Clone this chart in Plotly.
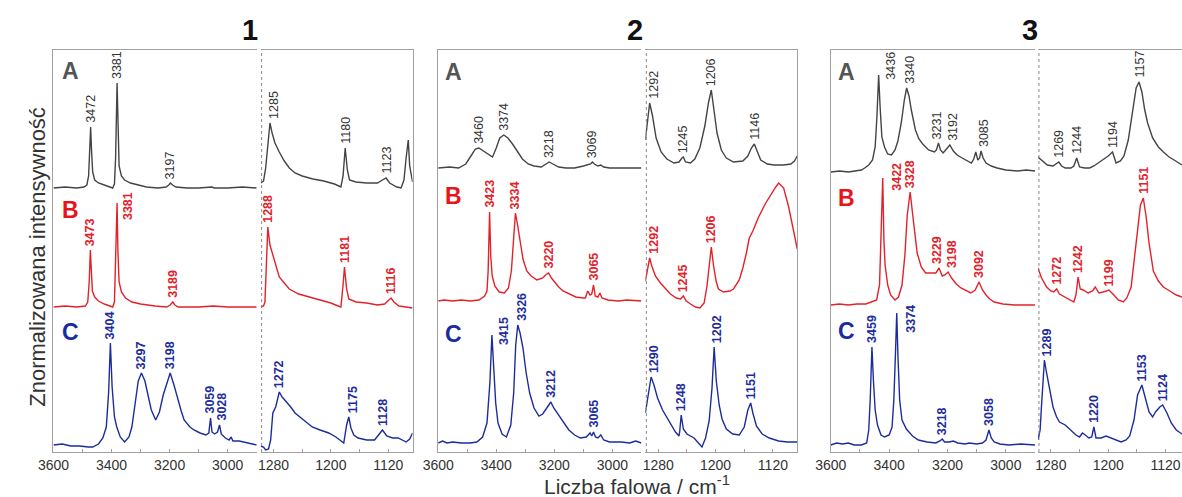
import numpy as np
import plotly.graph_objects as go

# ---------------------------------------------------------------------------
# Spectra: (wavenumber / cm-1, normalised intensity above the trace baseline)
# "HI" = 3600-2900 cm-1 region, "LO" = 1300-1090 cm-1 region
# ---------------------------------------------------------------------------
G1_HI_A = [(3600,0.00),(3560,0.01),(3520,0.00),(3495,0.01),(3485,0.03),(3479,0.12),(3475,0.40),(3472,0.61),(3469,0.38),(3465,0.16),(3458,0.08),(3445,0.05),(3425,0.03),(3405,0.01),(3396,0.00),(3390,0.04),(3386,0.30),(3381,1.05),(3378,0.55),(3374,0.22),(3366,0.12),(3355,0.08),(3335,0.05),(3310,0.03),(3280,0.01),(3240,0.00),(3212,0.01),(3203,0.03),(3197,0.05),(3190,0.03),(3178,0.01),(3140,0.00),(3100,0.00),(3055,0.01),(3045,0.00),(3000,0.00),(2950,0.01),(2900,0.00)]
G1_LO_A = [(1298,0.05),(1294,0.07),(1291,0.20),(1288,0.45),(1285,0.65),(1282,0.55),(1278,0.45),(1272,0.36),(1265,0.27),(1258,0.20),(1250,0.15),(1240,0.12),(1225,0.09),(1210,0.07),(1195,0.04),(1186,0.01),(1183,0.12),(1180,0.40),(1177,0.18),(1174,0.08),(1165,0.06),(1150,0.05),(1135,0.05),(1128,0.08),(1123,0.10),(1118,0.05),(1108,0.01),(1102,0.00),(1098,0.08),(1095,0.30),(1092,0.48),(1090,0.22),(1086,0.06)]
G1_HI_B = [(3600,0.00),(3560,0.01),(3520,0.00),(3490,0.01),(3482,0.05),(3477,0.25),(3473,0.57),(3470,0.35),(3466,0.16),(3458,0.10),(3445,0.06),(3425,0.03),(3405,0.01),(3396,0.00),(3390,0.05),(3386,0.40),(3381,1.04),(3378,0.55),(3374,0.25),(3366,0.15),(3352,0.09),(3330,0.05),(3300,0.03),(3250,0.01),(3210,0.00),(3198,0.02),(3189,0.05),(3182,0.02),(3170,0.00),(3100,0.00),(3050,0.01),(3000,0.00),(2950,0.00),(2900,0.00)]
G1_LO_B = [(1298,0.00),(1294,0.01),(1292,0.05),(1290,0.35),(1288,0.80),(1285,0.62),(1281,0.52),(1276,0.38),(1272,0.30),(1265,0.24),(1258,0.18),(1245,0.13),(1230,0.10),(1215,0.07),(1200,0.04),(1190,0.01),(1186,0.00),(1183,0.22),(1181,0.40),(1178,0.18),(1175,0.08),(1165,0.05),(1150,0.04),(1135,0.02),(1125,0.03),(1119,0.07),(1116,0.09),(1112,0.05),(1105,0.01),(1095,0.00),(1086,-0.01)]
G1_HI_C = [(3600,0.02),(3570,0.03),(3540,0.01),(3510,0.01),(3480,0.00),(3465,0.00),(3445,0.03),(3430,0.09),(3418,0.20),(3410,0.55),(3404,1.04),(3398,0.60),(3390,0.30),(3382,0.20),(3370,0.10),(3355,0.05),(3340,0.10),(3330,0.20),(3318,0.45),(3308,0.66),(3297,0.74),(3285,0.66),(3273,0.50),(3263,0.37),(3248,0.27),(3235,0.35),(3222,0.52),(3215,0.58),(3198,0.74),(3185,0.62),(3174,0.50),(3160,0.36),(3150,0.27),(3130,0.20),(3116,0.17),(3095,0.14),(3075,0.12),(3065,0.14),(3059,0.29),(3054,0.15),(3045,0.13),(3035,0.15),(3028,0.22),(3022,0.13),(3008,0.09),(2995,0.07),(2988,0.10),(2982,0.06),(2960,0.06),(2935,0.04),(2915,0.03),(2900,0.02)]
G1_LO_C = [(1298,0.01),(1294,0.00),(1291,-0.03),(1287,-0.02),(1284,0.07),(1281,0.34),(1277,0.40),(1272,0.55),(1268,0.50),(1263,0.46),(1256,0.40),(1250,0.34),(1238,0.27),(1226,0.20),(1215,0.17),(1203,0.14),(1193,0.10),(1185,0.05),(1182,0.04),(1178,0.22),(1175,0.30),(1172,0.19),(1168,0.12),(1162,0.09),(1150,0.07),(1139,0.07),(1133,0.13),(1128,0.17),(1122,0.11),(1114,0.09),(1106,0.09),(1100,0.07),(1095,0.05),(1090,0.08),(1086,0.14)]

G2_HI_A = [(3600,0.00),(3560,0.01),(3530,0.00),(3505,0.04),(3485,0.13),(3472,0.19),(3460,0.20),(3445,0.17),(3430,0.14),(3413,0.11),(3400,0.20),(3388,0.30),(3374,0.33),(3360,0.30),(3344,0.24),(3325,0.15),(3310,0.09),(3290,0.04),(3270,0.02),(3245,0.01),(3230,0.04),(3218,0.06),(3205,0.04),(3185,0.01),(3160,0.00),(3130,0.00),(3100,0.02),(3085,0.03),(3075,0.04),(3069,0.06),(3062,0.04),(3050,0.02),(3040,0.03),(3030,0.01),(3010,0.00),(2960,0.00),(2900,0.00)]
G2_LO_A = [(1298,0.28),(1296,0.40),(1292,0.65),(1288,0.52),(1283,0.30),(1276,0.16),(1268,0.09),(1258,0.05),(1251,0.06),(1247,0.10),(1245,0.11),(1242,0.06),(1235,0.05),(1229,0.09),(1222,0.20),(1215,0.42),(1210,0.65),(1206,0.78),(1202,0.55),(1198,0.35),(1192,0.18),(1185,0.10),(1175,0.06),(1162,0.07),(1155,0.12),(1150,0.20),(1146,0.24),(1142,0.17),(1137,0.08),(1128,0.04),(1118,0.03),(1105,0.03),(1095,0.04),(1090,0.07),(1086,0.12)]
G2_HI_B = [(3600,0.00),(3580,0.01),(3550,0.00),(3520,0.01),(3490,0.00),(3460,0.01),(3440,0.05),(3432,0.10),(3428,0.30),(3423,0.89),(3419,0.45),(3414,0.25),(3405,0.15),(3390,0.09),(3372,0.08),(3358,0.13),(3348,0.30),(3340,0.70),(3334,0.88),(3326,0.75),(3318,0.60),(3308,0.42),(3295,0.30),(3280,0.25),(3260,0.21),(3240,0.23),(3230,0.26),(3220,0.28),(3210,0.23),(3200,0.19),(3185,0.14),(3170,0.10),(3150,0.07),(3126,0.04),(3100,0.03),(3093,0.03),(3085,0.10),(3077,0.06),(3071,0.07),(3065,0.16),(3059,0.05),(3050,0.04),(3043,0.08),(3036,0.03),(3015,0.01),(2980,0.00),(2950,0.01),(2920,0.00),(2900,0.00)]
G2_LO_B = [(1298,0.20),(1295,0.30),(1292,0.43),(1289,0.35),(1284,0.25),(1277,0.18),(1270,0.12),(1263,0.07),(1255,0.03),(1249,0.02),(1245,0.05),(1241,0.00),(1235,-0.03),(1228,-0.06),(1222,-0.07),(1216,-0.02),(1212,0.15),(1209,0.35),(1206,0.54),(1203,0.36),(1199,0.19),(1196,0.12),(1189,0.09),(1180,0.10),(1175,0.12),(1167,0.21),(1162,0.33),(1157,0.48),(1153,0.63),(1148,0.70),(1140,0.84),(1130,0.98),(1122,1.08),(1116,1.14),(1112,1.18),(1105,1.13),(1098,0.94),(1091,0.68),(1086,0.52)]
G2_HI_C = [(3600,0.00),(3585,0.02),(3570,0.00),(3550,0.01),(3520,0.00),(3490,0.00),(3467,0.01),(3447,0.06),(3432,0.20),(3422,0.60),(3415,1.08),(3409,0.75),(3402,0.40),(3394,0.20),(3380,0.09),(3365,0.06),(3350,0.18),(3340,0.50),(3333,0.98),(3326,1.18),(3318,1.10),(3308,0.95),(3297,0.70),(3285,0.50),(3270,0.35),(3253,0.27),(3240,0.29),(3226,0.35),(3212,0.41),(3202,0.35),(3190,0.30),(3182,0.27),(3165,0.19),(3150,0.13),(3130,0.08),(3110,0.05),(3090,0.06),(3077,0.10),(3071,0.07),(3065,0.11),(3058,0.06),(3050,0.05),(3040,0.08),(3030,0.03),(3010,0.01),(2970,0.01),(2940,0.00),(2920,0.02),(2900,0.00)]
G2_LO_C = [(1298,0.30),(1294,0.50),(1290,0.66),(1286,0.58),(1281,0.45),(1274,0.33),(1263,0.20),(1256,0.11),(1251,0.07),(1250,0.12),(1248,0.28),(1245,0.14),(1240,0.09),(1230,0.05),(1224,0.00),(1219,-0.04),(1214,0.05),(1209,0.22),(1205,0.55),(1202,0.96),(1199,0.62),(1195,0.38),(1191,0.24),(1185,0.14),(1176,0.09),(1167,0.08),(1160,0.16),(1155,0.33),(1151,0.40),(1148,0.30),(1143,0.17),(1135,0.09),(1125,0.05),(1112,0.02),(1100,0.01),(1086,0.01)]

G3_HI_A = [(3600,0.00),(3570,0.01),(3540,0.00),(3515,0.01),(3495,0.02),(3484,0.04),(3470,0.07),(3457,0.12),(3448,0.25),(3442,0.55),(3436,0.97),(3431,0.65),(3425,0.35),(3416,0.25),(3405,0.18),(3392,0.17),(3380,0.22),(3370,0.31),(3358,0.50),(3348,0.72),(3340,0.84),(3332,0.76),(3324,0.62),(3310,0.42),(3298,0.33),(3285,0.28),(3265,0.22),(3245,0.20),(3238,0.22),(3231,0.29),(3224,0.22),(3215,0.19),(3200,0.24),(3192,0.27),(3180,0.21),(3167,0.17),(3150,0.14),(3135,0.12),(3118,0.09),(3110,0.13),(3103,0.20),(3096,0.12),(3090,0.14),(3085,0.21),(3078,0.14),(3068,0.09),(3050,0.06),(3030,0.04),(3000,0.02),(2960,0.01),(2930,0.02),(2900,0.01)]
G3_LO_A = [(1298,0.15),(1292,0.11),(1285,0.07),(1277,0.06),(1272,0.08),(1269,0.10),(1265,0.06),(1260,0.04),(1252,0.04),(1248,0.06),(1244,0.14),(1240,0.05),(1233,0.04),(1226,0.04),(1220,0.06),(1214,0.09),(1207,0.12),(1200,0.16),(1194,0.20),(1189,0.09),(1183,0.11),(1178,0.16),(1172,0.32),(1166,0.58),(1161,0.84),(1157,0.90),(1153,0.80),(1149,0.62),(1145,0.49),(1138,0.34),(1130,0.25),(1123,0.20),(1115,0.15),(1108,0.12),(1100,0.08),(1097,0.07)]
G3_HI_B = [(3600,0.00),(3570,0.01),(3540,0.00),(3510,0.01),(3480,0.01),(3460,0.03),(3443,0.05),(3433,0.20),(3428,0.60),(3422,1.27),(3418,0.65),(3414,0.40),(3405,0.20),(3395,0.10),(3380,0.05),(3368,0.08),(3356,0.20),(3346,0.50),(3338,0.90),(3328,1.13),(3320,0.92),(3312,0.70),(3304,0.52),(3290,0.38),(3275,0.32),(3255,0.32),(3240,0.32),(3229,0.37),(3218,0.29),(3209,0.30),(3198,0.33),(3186,0.27),(3170,0.21),(3154,0.17),(3135,0.14),(3120,0.12),(3105,0.15),(3092,0.23),(3080,0.15),(3068,0.10),(3055,0.06),(3040,0.03),(3010,0.01),(2970,0.00),(2930,0.00),(2900,0.00)]
G3_LO_B = [(1298,0.37),(1293,0.27),(1286,0.18),(1280,0.14),(1276,0.13),(1272,0.16),(1268,0.11),(1261,0.08),(1254,0.05),(1248,0.03),(1245,0.10),(1242,0.28),(1239,0.16),(1235,0.15),(1228,0.12),(1222,0.14),(1218,0.18),(1213,0.12),(1207,0.13),(1199,0.15),(1192,0.10),(1186,0.05),(1179,0.03),(1174,0.07),(1168,0.18),(1164,0.45),(1160,0.72),(1155,1.00),(1151,1.07),(1147,0.88),(1143,0.62),(1137,0.34),(1130,0.24),(1123,0.18),(1114,0.14),(1105,0.10),(1097,0.08)]
G3_HI_C = [(3600,0.00),(3580,0.02),(3560,0.01),(3540,0.02),(3520,0.00),(3495,0.00),(3477,0.02),(3470,0.15),(3465,0.45),(3459,0.98),(3454,0.65),(3448,0.35),(3440,0.20),(3428,0.10),(3416,0.08),(3400,0.10),(3390,0.18),(3384,0.45),(3378,0.95),(3374,1.32),(3370,0.90),(3364,0.45),(3356,0.25),(3341,0.16),(3320,0.09),(3300,0.05),(3270,0.03),(3240,0.02),(3226,0.04),(3218,0.06),(3210,0.03),(3195,0.03),(3180,0.04),(3165,0.02),(3140,0.01),(3125,0.02),(3100,0.01),(3080,0.02),(3068,0.05),(3058,0.15),(3050,0.07),(3040,0.03),(3020,0.01),(2990,0.00),(2950,0.01),(2900,0.00)]
G3_LO_C = [(1298,0.05),(1295,0.15),(1293,0.40),(1291,0.62),(1289,0.85),(1286,0.72),(1282,0.55),(1277,0.38),(1272,0.28),(1268,0.23),(1260,0.20),(1252,0.15),(1245,0.10),(1240,0.08),(1236,0.12),(1232,0.10),(1227,0.07),(1223,0.08),(1220,0.18),(1217,0.07),(1210,0.07),(1203,0.09),(1196,0.07),(1188,0.04),(1182,0.03),(1175,0.05),(1170,0.09),(1164,0.25),(1159,0.50),(1153,0.60),(1149,0.50),(1143,0.33),(1138,0.28),(1134,0.33),(1128,0.38),(1124,0.40),(1118,0.32),(1112,0.22),(1105,0.15),(1097,0.11)]

# Assigned band positions (cm-1) printed above the peaks
PEAKS_1 = {"A": [3472, 3381, 3197, 1285, 1180, 1123],
           "B": [3473, 3381, 3189, 1288, 1181, 1116],
           "C": [3404, 3297, 3198, 3059, 3028, 1272, 1175, 1128]}
PEAKS_2 = {"A": [3460, 3374, 3218, 3069, 1292, 1245, 1206, 1146],
           "B": [3423, 3334, 3220, 3065, 1292, 1245, 1206],
           "C": [3415, 3326, 3212, 3065, 1290, 1248, 1202, 1151]}
PEAKS_3 = {"A": [3436, 3340, 3231, 3192, 3085, 1269, 1244, 1194, 1157],
           "B": [3422, 3328, 3229, 3198, 3092, 1272, 1242, 1199, 1151],
           "C": [3459, 3374, 3218, 3058, 1289, 1220, 1153, 1124]}

GROUPS = ["1", "2", "3"]
SERIES = ["A", "B", "C"]
HI_TICKS = [3600, 3400, 3200, 3000]
HI_MINOR = [3500, 3300, 3100, 2900]
LO_TICKS = [1280, 1200, 1120]
LO_MINOR = [1240, 1160]

SPECTRA = {
    ("1", "hi", "A"): G1_HI_A, ("1", "lo", "A"): G1_LO_A,
    ("1", "hi", "B"): G1_HI_B, ("1", "lo", "B"): G1_LO_B,
    ("1", "hi", "C"): G1_HI_C, ("1", "lo", "C"): G1_LO_C,
    ("2", "hi", "A"): G2_HI_A, ("2", "lo", "A"): G2_LO_A,
    ("2", "hi", "B"): G2_HI_B, ("2", "lo", "B"): G2_LO_B,
    ("2", "hi", "C"): G2_HI_C, ("2", "lo", "C"): G2_LO_C,
    ("3", "hi", "A"): G3_HI_A, ("3", "lo", "A"): G3_LO_A,
    ("3", "hi", "B"): G3_HI_B, ("3", "lo", "B"): G3_LO_B,
    ("3", "hi", "C"): G3_HI_C, ("3", "lo", "C"): G3_LO_C,
}
PEAKS = {"1": PEAKS_1, "2": PEAKS_2, "3": PEAKS_3}

# ---------------------------------------------------------------------------
# Layout constants (pixels on a 1182 x 497 page)
# ---------------------------------------------------------------------------
W, H = 1182, 497
PLOT_TOP, PLOT_BOTTOM = 50, 452
Y_MAX = (PLOT_BOTTOM - PLOT_TOP) / 100.0       # 1 intensity unit = 100 px

PANEL_PX = {("1", "hi"): (38, 244), ("1", "lo"): (248, 402),
            ("2", "hi"): (428, 634), ("2", "lo"): (638, 792),
            ("3", "hi"): (826, 1033), ("3", "lo"): (1036, 1182)}
HI_RANGE = [3600, 2900]
LO_PX_PER_CM = 154 / 212.0
LO_START = 1298

# vertical stacking offset of each trace baseline
OFFSET = {"1": {"A": 2.64, "B": 1.45, "C": 0.05},
          "2": {"A": 2.84, "B": 1.51, "C": 0.09},
          "3": {"A": 2.80, "B": 1.47, "C": 0.07}}

# sideways / vertical nudges (px) of some band labels
NUDGE = {("1", "A", 1285): (4, 0), ("1", "B", 3381): (11, -21), ("1", "C", 1175): (4, 0),
         ("1", "C", 3059): (-1, 0), ("1", "C", 3028): (2, 0),
         ("2", "A", 1292): (4, 0), ("2", "B", 1292): (4, 0), ("2", "C", 3415): (12, -14),
         ("2", "C", 3326): (4, 0), ("2", "C", 1290): (3, 0), ("2", "C", 1202): (3, 0),
         ("3", "A", 3436): (12, -9), ("3", "A", 3340): (3, 0), ("3", "A", 3085): (3, 0),
         ("3", "A", 3231): (-1, 0), ("3", "A", 3192): (3, 0),
         ("3", "B", 3229): (-2, 0), ("3", "B", 3198): (4, 0),
         ("3", "B", 3422): (14, -17), ("3", "C", 3374): (14, -24), ("3", "C", 1289): (3, 0)}

LINE_COLOR = {"A": "#444444", "B": "#e3212a", "C": "#1d2c9c"}
TEXT_COLOR = {"A": "#333333", "B": "#e3212a", "C": "#1d2c9c"}
LETTER_COLOR = {"A": "#555555", "B": "#e8141c", "C": "#1a2aa0"}
LETTER_POS = {"1": (55, [71, 210, 332]), "2": (443, [72, 196, 334]), "3": (842, [72, 198, 331])}
TITLE_X = {"1": 237, "2": 627, "3": 1028}
FONT = "Liberation Sans, Arial, sans-serif"
AXIS_GRAY = "#a0a0a0"


def fx(p):
    return p / W


def fy(p):
    return 1 - p / H


fig = go.Figure()
layout = dict(width=W, height=H, margin=dict(l=0, r=0, t=0, b=0),
              paper_bgcolor="white", plot_bgcolor="white", showlegend=False,
              font=dict(family=FONT, color="#333333"))
annotations = []
shapes = []

idx = 0
for g in GROUPS:
    for region in ["hi", "lo"]:
        idx += 1
        xa, ya = f"xaxis{idx}", f"yaxis{idx}"
        xr, yr = f"x{idx}", f"y{idx}"
        x0, x1 = PANEL_PX[(g, region)]
        if region == "hi":
            xrange, ticks, minor = HI_RANGE, HI_TICKS, HI_MINOR
        else:
            xrange = [LO_START, LO_START - (x1 - x0) / LO_PX_PER_CM]
            ticks, minor = LO_TICKS, LO_MINOR
        layout[xa] = dict(domain=[fx(x0), fx(x1)], range=xrange, anchor=yr,
                          showline=True, linecolor=AXIS_GRAY, linewidth=1, mirror=True,
                          showgrid=False, zeroline=False, ticks="inside", ticklen=3,
                          tickcolor=AXIS_GRAY, tickvals=ticks,
                          minor=dict(tickvals=minor, ticks="inside", ticklen=3,
                                     tickcolor=AXIS_GRAY, showgrid=False),
                          tickfont=dict(size=14, color="#333333", family=FONT))
        layout[ya] = dict(domain=[fy(PLOT_BOTTOM), fy(PLOT_TOP)], range=[0, Y_MAX], anchor=xr,
                          side="left" if region == "hi" else "right",
                          showline=True, linecolor=AXIS_GRAY, linewidth=1,
                          showgrid=False, zeroline=False, showticklabels=False, ticks="")
        if region == "lo":
            shapes.append(dict(type="line", xref="paper", yref="paper",
                               x0=fx(x0 + 1), x1=fx(x0 + 1), y0=fy(PLOT_BOTTOM), y1=fy(PLOT_TOP),
                               line=dict(color="#8a8a8a", width=1, dash="dot")))

        lo_w, hi_w = min(xrange), max(xrange)
        for s in SERIES:
            pts = SPECTRA[(g, region, s)]
            wn = np.array([p[0] for p in pts], dtype=float)
            inten = np.array([p[1] for p in pts], dtype=float) + OFFSET[g][s]
            fig.add_trace(go.Scatter(x=wn, y=inten, mode="lines", xaxis=xr, yaxis=yr,
                                     line=dict(color=LINE_COLOR[s], width=1.4),
                                     hoverinfo="skip"))
            # band labels of this trace in this region
            for pk in PEAKS[g][s]:
                if not (lo_w <= pk <= hi_w):
                    continue
                y_pk = float(np.interp(pk, wn[::-1], inten[::-1]))
                dx, dy = NUDGE.get((g, s, pk), (0, 0))
                annotations.append(dict(
                    x=pk, y=y_pk, xref=xr, yref=yr, text=str(pk), showarrow=False,
                    textangle=-90, xanchor="center", yanchor="bottom",
                    xshift=dx, yshift=2 + dy,
                    font=dict(size=12.5, color=TEXT_COLOR[s], family=FONT,
                              weight="normal" if s == "A" else "bold")))

    # series letters
    lx, lys = LETTER_POS[g]
    for s, ly in zip(SERIES, lys):
        annotations.append(dict(x=fx(lx), y=fy(ly), xref="paper", yref="paper",
                                text=f"<b>{s}</b>", showarrow=False,
                                xanchor="center", yanchor="middle",
                                font=dict(size=23, color=LETTER_COLOR[s], family=FONT)))
    # group number
    annotations.append(dict(x=fx(TITLE_X[g]), y=fy(30), xref="paper", yref="paper",
                            text=f"<b>{g}</b>", showarrow=False,
                            xanchor="center", yanchor="middle",
                            font=dict(size=29, color="#111111", family=FONT)))

# axis titles
annotations.append(dict(x=fx(630), y=fy(485), xref="paper", yref="paper",
                        text="Liczba falowa / cm<sup>-1</sup>", showarrow=False,
                        xanchor="center", yanchor="middle",
                        font=dict(size=21, color="#333333", family=FONT)))
annotations.append(dict(x=fx(21), y=fy(257), xref="paper", yref="paper",
                        text="Znormalizowana intensywność", showarrow=False,
                        textangle=-90, xanchor="center", yanchor="middle",
                        font=dict(size=22, color="#333333", family=FONT)))

layout["annotations"] = annotations
layout["shapes"] = shapes
fig.update_layout(**layout)
fig.write_html("out.html")
